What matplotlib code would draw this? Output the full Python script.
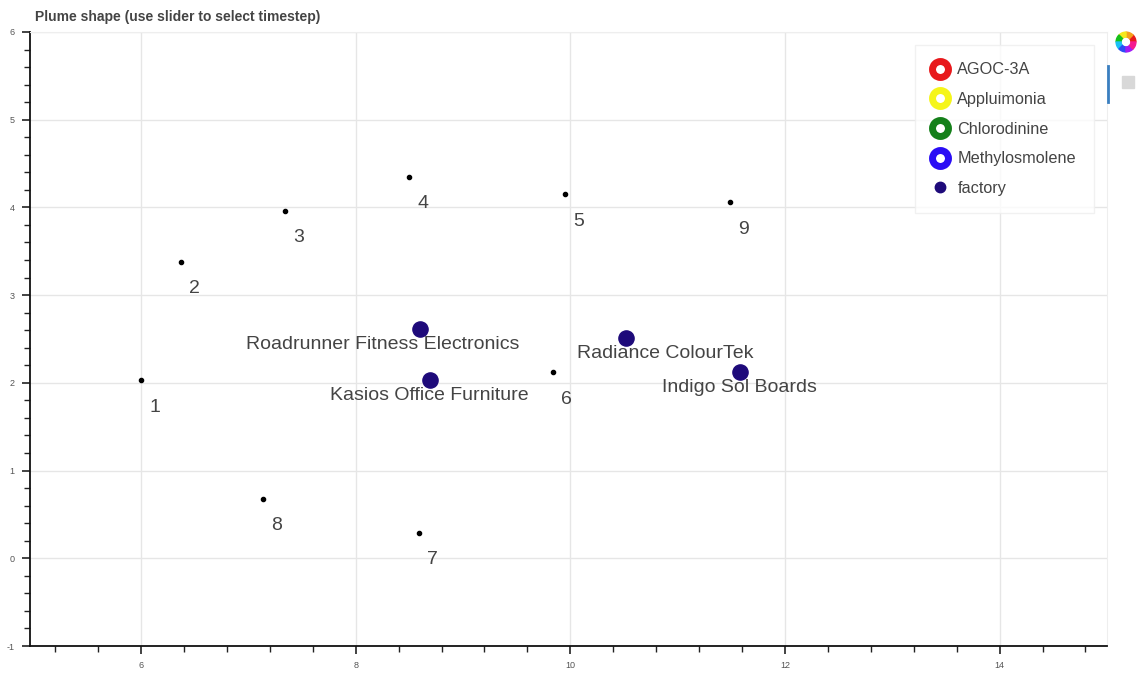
import matplotlib.pyplot as plt
import matplotlib.patches as mpatches
import numpy as np
from matplotlib.lines import Line2D
from matplotlib.ticker import MultipleLocator

plt.rcParams['font.family'] = ['Liberation Sans', 'DejaVu Sans']
plt.rcParams['axes.unicode_minus'] = False

# sensors
sensor_id = ['1', '2', '3', '4', '5', '6', '7', '8', '9']
sensor_x = [6.00, 6.37, 7.34, 8.50, 9.95, 9.84, 8.59, 7.14, 11.49]
sensor_y = [2.03, 3.38, 3.96, 4.35, 4.15, 2.12, 0.29, 0.68, 4.06]

# factories
factory_name = ['Roadrunner Fitness Electronics', 'Kasios Office Furniture',
                'Radiance ColourTek', 'Indigo Sol Boards']
factory_x = [8.60, 8.69, 10.52, 11.58]
factory_y = [2.61, 2.03, 2.51, 2.12]
label_x = [8.25, 8.69, 10.88, 11.58]

# plume chemicals (no plume drawn at this timestep)
chemicals = ['AGOC-3A', 'Appluimonia', 'Chlorodinine', 'Methylosmolene']
chem_colors = ['#e8191c', '#f5f51a', '#15801a', '#2a0df5']
factory_color = '#1e0a7a'

fig = plt.figure(figsize=(11.4, 6.73), dpi=100)
ax = fig.add_axes([0.0263, 0.0401, 0.9447, 0.9124])

ax.set_xlim(4.965, 15.0)
ax.set_ylim(-1, 6)

ax.grid(True, color='#e6e6e6', lw=1)
ax.set_axisbelow(True)
ax.xaxis.set_major_locator(MultipleLocator(2))
ax.xaxis.set_minor_locator(MultipleLocator(0.4))
ax.yaxis.set_major_locator(MultipleLocator(1))
ax.yaxis.set_minor_locator(MultipleLocator(0.2))
ax.tick_params(which='major', length=6, width=1.2, color='#222', labelsize=6.5,
               labelcolor='#555', direction='out', pad=5)
ax.tick_params(which='minor', length=4, width=1, color='#222', direction='out')
for s in ['top', 'right']:
    ax.spines[s].set_color('#eeeeee')
for s in ['left', 'bottom']:
    ax.spines[s].set_color('#111')
    ax.spines[s].set_linewidth(1.3)

ax.scatter(factory_x, factory_y, s=120, color=factory_color, zorder=3)
ax.scatter(sensor_x, sensor_y, s=9, color='black', zorder=3)

for i in range(len(sensor_id)):
    ax.annotate(sensor_id[i], (sensor_x[i], sensor_y[i]), xytext=(8, -27),
                textcoords='offset pixels', ha='left', va='center',
                fontsize=14, color='#444')
for i in range(len(factory_name)):
    ax.annotate(factory_name[i], (label_x[i], factory_y[i]), xytext=(0, -15),
                textcoords='offset pixels', ha='center', va='center',
                fontsize=14, color='#444')

handles = []
for c, col in zip(chemicals, chem_colors):
    handles.append(Line2D([], [], ls='none', marker='o', ms=11.5, mfc='white',
                          mec=col, mew=5, label=c))
handles.append(Line2D([], [], ls='none', marker='o', ms=7.5, color=factory_color,
                      label='factory'))
leg = ax.legend(handles=handles, loc='upper left', bbox_to_anchor=(0.8215, 0.979),
                fontsize=11.7, frameon=True, fancybox=False, edgecolor='#eeeeee',
                borderpad=1.08, labelspacing=0.9, handletextpad=0.55,
                handlelength=1.0, borderaxespad=0)
leg.get_frame().set_linewidth(1)
for t in leg.get_texts():
    t.set_color('#444')

fig.text(0.031, 0.975, 'Plume shape (use slider to select timestep)',
         fontsize=10, fontweight='bold', color='#444', ha='left', va='center')

# toolbar decoration
logo = fig.add_axes([1115 / 1140, 1 - 53 / 673, 22 / 1140, 22 / 673])
logo.set_xlim(-1, 1)
logo.set_ylim(-1, 1)
logo.axis('off')
cols = ['#e8191c', '#f5a01a', '#f5e81a', '#15c01a', '#1ac0f5', '#2a4df5', '#a01af5', '#f51a90']
for k, col in enumerate(cols):
    logo.add_patch(mpatches.Wedge((0, 0), 0.9, k * 45, (k + 1) * 45, width=0.45, color=col))
fig.add_artist(Line2D([1108 / 1140, 1108 / 1140], [1 - 66 / 673, 1 - 102 / 673],
                      color='#3a7fc0', lw=2, transform=fig.transFigure))
fig.add_artist(mpatches.Rectangle((1122 / 1140, 1 - 88 / 673), 12 / 1140, 12 / 673,
                                  color='#d8d8d8', transform=fig.transFigure))

fig.savefig('out.png', dpi=100)
